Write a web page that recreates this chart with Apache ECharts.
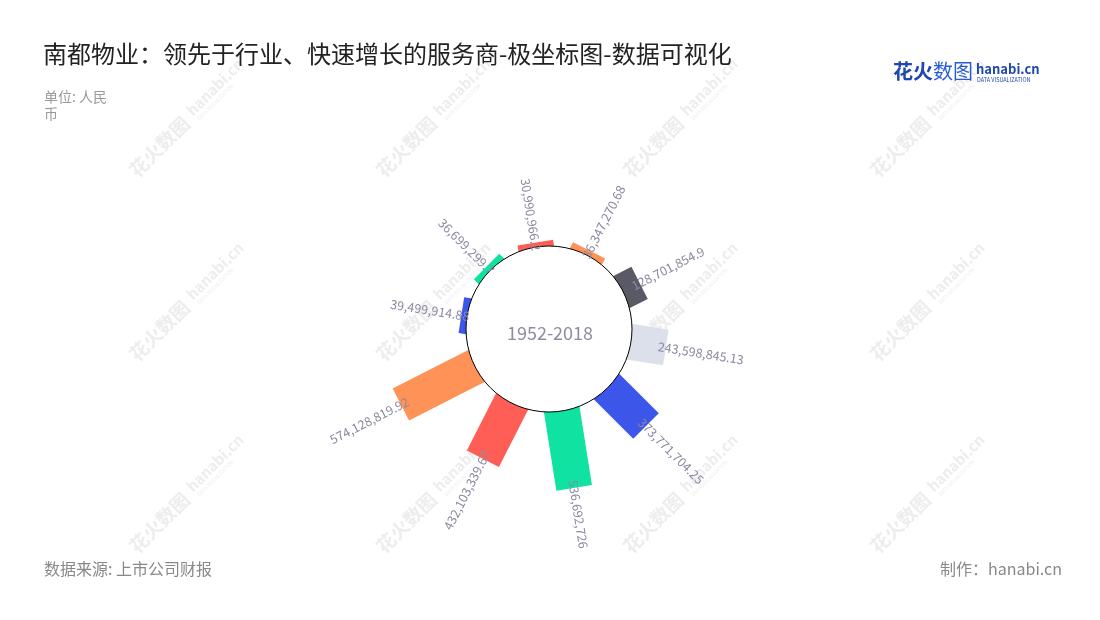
<!DOCTYPE html>
<html>
<head>
<meta charset="utf-8">
<script src="https://cdn.jsdelivr.net/npm/echarts@6/dist/echarts.min.js"></script>
<style>
html,body{margin:0;padding:0;background:#fff;}
#main{width:1100px;height:620px;}
</style>
</head>
<body>
<div id="main"></div>
<script>
// ---- data ----
const categories = ['第1期','第2期','第3期','第4期','第5期','第6期','第7期','第8期','第9期','第10期'];
const values = [39499914.88, 36699299.7, 30990966.2, 36347270.68, 128701854.9, 243598845.13, 373771704.25, 536692726, 432103339.67, 574128819.92];
const centerLabel = '1952-2018';
const titleText = '南都物业：领先于行业、快速增长的服务商-极坐标图-数据可视化';
const unitText = '单位: 人民币';
const sourceText = '数据来源: 上市公司财报';
const makerText = '制作：hanabi.cn';

// ---- styles ----
const palette = ['#3B56E8', '#10E3A1', '#FF5E57', '#FF9256', '#5A5A66', '#DCE0EB'];
const FONT = '"Noto Sans CJK SC", "Noto Sans", sans-serif';
const CX = 549, CY = 329, R0 = 83, R1 = 170;
const labelColor = '#8a8aa0';

const chart = echarts.init(document.getElementById('main'));

function barItem(params, api) {
  const v = api.value(0), i = api.value(1);
  const p0 = api.coord([0, i]);
  const p1 = api.coord([v, i]);
  const a = p1[3];
  const ux = Math.cos(a), uy = -Math.sin(a);
  const nx = -uy, ny = ux;
  const hw = 18, tuck = 7;
  const sx = p0[0] - ux * tuck, sy = p0[1] - uy * tuck;
  return {
    type: 'polygon',
    shape: { points: [
      [sx + nx * hw, sy + ny * hw],
      [p1[0] + nx * hw, p1[1] + ny * hw],
      [p1[0] - nx * hw, p1[1] - ny * hw],
      [sx - nx * hw, sy - ny * hw]
    ] },
    style: { fill: palette[params.dataIndex % palette.length] }
  };
}

function labelItem(params, api) {
  const v = api.value(0), i = api.value(1);
  const p1 = api.coord([v, i]);
  const a = p1[3];
  const ux = Math.cos(a), uy = -Math.sin(a);
  const right = ux >= 0;
  return {
    type: 'text',
    x: p1[0] - ux * 8,
    y: p1[1] - uy * 8,
    rotation: right ? a : a + Math.PI,
    style: {
      text: echarts.format.addCommas(values[params.dataIndex]),
      align: right ? 'left' : 'right',
      verticalAlign: 'middle',
      fill: labelColor,
      fontSize: 12.5,
      fontFamily: FONT
    }
  };
}

// watermarks
const wmCols = [184, 431, 678, 925];
const wmRows = [122, 306, 498];
const watermarks = [];
wmRows.forEach(y => wmCols.forEach(x => {
  watermarks.push({
    type: 'group', x: x, y: y, rotation: Math.PI / 4, z: 0, silent: true,
    children: [
      { type: 'text', x: -73, y: 0, style: { text: '花火数图', fontSize: 19, fontWeight: 'bold', fill: '#ededed', verticalAlign: 'middle', fontFamily: FONT } },
      { type: 'text', x: 10, y: -3, style: { text: 'hanabi.cn', fontSize: 15, fontWeight: 'bold', fill: '#ededed', verticalAlign: 'middle', fontFamily: FONT } },
      { type: 'text', x: 12, y: 8, style: { text: 'DATA VISUALIZATION', fontSize: 5, fill: '#ededed', verticalAlign: 'middle', fontFamily: FONT } }
    ]
  });
}));

const option = {
  backgroundColor: '#fff',
  animation: false,
  title: [
    { text: titleText, left: 38, top: 37, textStyle: { fontSize: 24, fontWeight: 'normal', color: '#222', fontFamily: FONT } },
    { text: unitText, left: 39, top: 83, textStyle: { fontSize: 14, fontWeight: 'normal', color: '#999', fontFamily: FONT, width: 70, overflow: 'break', lineHeight: 17 } },
    { text: sourceText, left: 39, top: 556, textStyle: { fontSize: 16, fontWeight: 'normal', color: '#888', fontFamily: FONT } },
    { text: makerText, right: 33, top: 556, textStyle: { fontSize: 16, fontWeight: 'normal', color: '#888', fontFamily: FONT } }
  ],
  polar: { center: [CX, CY], radius: [R0, R1] },
  angleAxis: {
    type: 'category', data: categories, startAngle: 189, clockwise: true,
    axisLine: { show: false }, axisTick: { show: false }, axisLabel: { show: false }, splitLine: { show: false }
  },
  radiusAxis: {
    type: 'value', min: 0, max: 600000000,
    axisLine: { show: false }, axisTick: { show: false }, axisLabel: { show: false }, splitLine: { show: false }
  },
  series: [
    { type: 'custom', coordinateSystem: 'polar', renderItem: barItem, encode: { radius: 0, angle: 1 }, z: 2,
      data: values.map((v, i) => [v, i]) },
    { type: 'custom', coordinateSystem: 'polar', renderItem: labelItem, encode: { radius: 0, angle: 1 }, z: 4, silent: true,
      data: values.map((v, i) => [v, i]) }
  ],
  graphic: watermarks.concat([
    { type: 'circle', shape: { cx: CX, cy: CY, r: R0 }, style: { fill: '#fff', stroke: '#000', lineWidth: 1 }, z: 3, silent: true },
    { type: 'text', x: CX + 1, y: CY + 4, z: 5, style: { text: centerLabel, align: 'center', verticalAlign: 'middle', fontSize: 18, fill: '#8d8ca3', fontFamily: FONT } },
    { type: 'text', x: 893, y: 71, z: 5, style: { text: '花火', fontSize: 20, fontWeight: 'bold', fill: '#1f47b0', verticalAlign: 'middle', fontFamily: FONT } },
    { type: 'text', x: 933, y: 71, z: 5, style: { text: '数图', fontSize: 20, fill: '#2a5bd6', verticalAlign: 'middle', fontFamily: FONT } },
    { type: 'text', x: 976, y: 69, z: 5, style: { text: 'hanabi.cn', fontSize: 13, fontWeight: 'bold', fill: '#1f47b0', verticalAlign: 'middle', fontFamily: FONT } },
    { type: 'text', x: 977, y: 80, z: 5, style: { text: 'DATA VISUALIZATION', fontSize: 5.5, fill: '#1f47b0', verticalAlign: 'middle', fontFamily: FONT } }
  ])
};
chart.setOption(option);
</script>
</body>
</html>
